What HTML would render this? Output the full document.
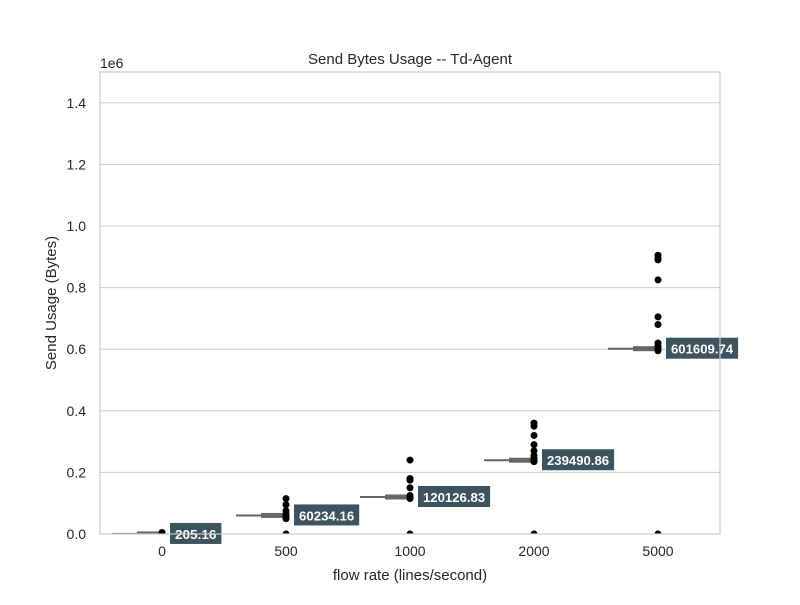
<!DOCTYPE html>
<html><head><meta charset="utf-8"><style>
body{margin:0;background:#fff;}
svg text{font-family:"Liberation Sans",sans-serif;}
</style></head><body>
<svg id="chart" width="800" height="600" xmlns="http://www.w3.org/2000/svg">
<defs><clipPath id="pc"><rect x="100" y="72" width="620" height="462"/></clipPath></defs>
<rect width="800" height="600" fill="#fff"/>
<g id="grid"></g><g id="marks" clip-path="url(#pc)"></g><g id="labels"></g><g id="axes"></g>
</svg>
<script>
const categories = ["0","500","1000","2000","5000"];
const medians = [205.16, 60234.16, 120126.83, 239490.86, 601609.74];
const medianLabels = ["205.16","60234.16","120126.83","239490.86","601609.74"];
const points = [
 [0, 5000, 2000],
 [115000, 95000, 75000, 65000, 60000, 55000, 50000, 0],
 [240000, 180000, 175000, 150000, 125000, 120000, 115000, 0],
 [360000, 350000, 320000, 290000, 270000, 255000, 245000, 240000, 235000, 0],
 [905000, 895000, 890000, 825000, 705000, 680000, 620000, 610000, 605000, 600000, 595000, 0]
];
const yTicks = [0, 0.2, 0.4, 0.6, 0.8, 1.0, 1.2, 1.4];
const yTickLabels = ["0.0","0.2","0.4","0.6","0.8","1.0","1.2","1.4"];

const L=100,R=720,T=72,B=534, yMax=1.5e6;
const y = v => B - v/yMax*(B-T);
const band=(R-L)/categories.length;
const x = i => L + band*(i+0.5);
const NS="http://www.w3.org/2000/svg";
function mk(tag, attrs, parent, text){const e=document.createElementNS(NS,tag);for(const k in attrs)e.setAttribute(k,attrs[k]);if(text!==undefined)e.textContent=text;parent.appendChild(e);return e;}
const grid=document.getElementById('grid'), marks=document.getElementById('marks'), labels=document.getElementById('labels'), axes=document.getElementById('axes');

yTicks.forEach((t,i)=>{
 const gl=mk('line',{x1:L,x2:R,y1:y(t*1e6),y2:y(t*1e6),stroke:'#cccccc','stroke-width':1},grid);
 
 
 const tl=mk('text',{x:L-14,y:y(t*1e6)+5,'text-anchor':'end','font-size':14,fill:'#262626'},axes,yTickLabels[i]);
 
 
});
const fr=mk('rect',{x:L,y:T,width:R-L,height:B-T,fill:'none',stroke:'#cccccc','stroke-width':1.2},axes);



categories.forEach((c,i)=>{
 const cx=x(i), my=y(medians[i]);
 const ln=mk('line',{x1:cx-50,x2:cx,y1:my,y2:my,stroke:'#666','stroke-width':2},marks);
 
 
 const bx=mk('rect',{x:cx-25,y:my-2.5,width:25,height:5,fill:'#666'},marks);
 
 
 points[i].forEach(v=>{
  const p=mk('ellipse',{cx:cx,cy:y(v),rx:3.5,ry:3.5,fill:'#000'},marks);
  
  
 });
 const tw=medianLabels[i].length*6.9;
 const lb=mk('rect',{x:cx+8,y:my-11,width:tw+10,height:21,fill:'#3d5460'},labels);
 
 
 const lt=mk('text',{x:cx+13,y:my+5,'font-size':13,'font-weight':'bold',fill:'#fff',textLength:tw,lengthAdjust:'spacingAndGlyphs'},labels,medianLabels[i]);
 
 
 const xt=mk('text',{x:cx,y:B+22,'text-anchor':'middle','font-size':14,fill:'#262626'},axes,c);
 
 
});
</script>
<svg style="position:absolute;left:0;top:0" width="800" height="600">
<text x="410" y="64" text-anchor="middle" font-size="15" fill="#262626">Send Bytes Usage -- Td-Agent</text>
<text x="100" y="68" font-size="14" fill="#262626">1e6</text>
<text x="410" y="580" text-anchor="middle" font-size="15" fill="#262626">flow rate (lines/second)</text>
<text transform="translate(56,303) rotate(-90)" text-anchor="middle" font-size="15" fill="#262626">Send Usage (Bytes)</text>
</svg>
</body></html>
